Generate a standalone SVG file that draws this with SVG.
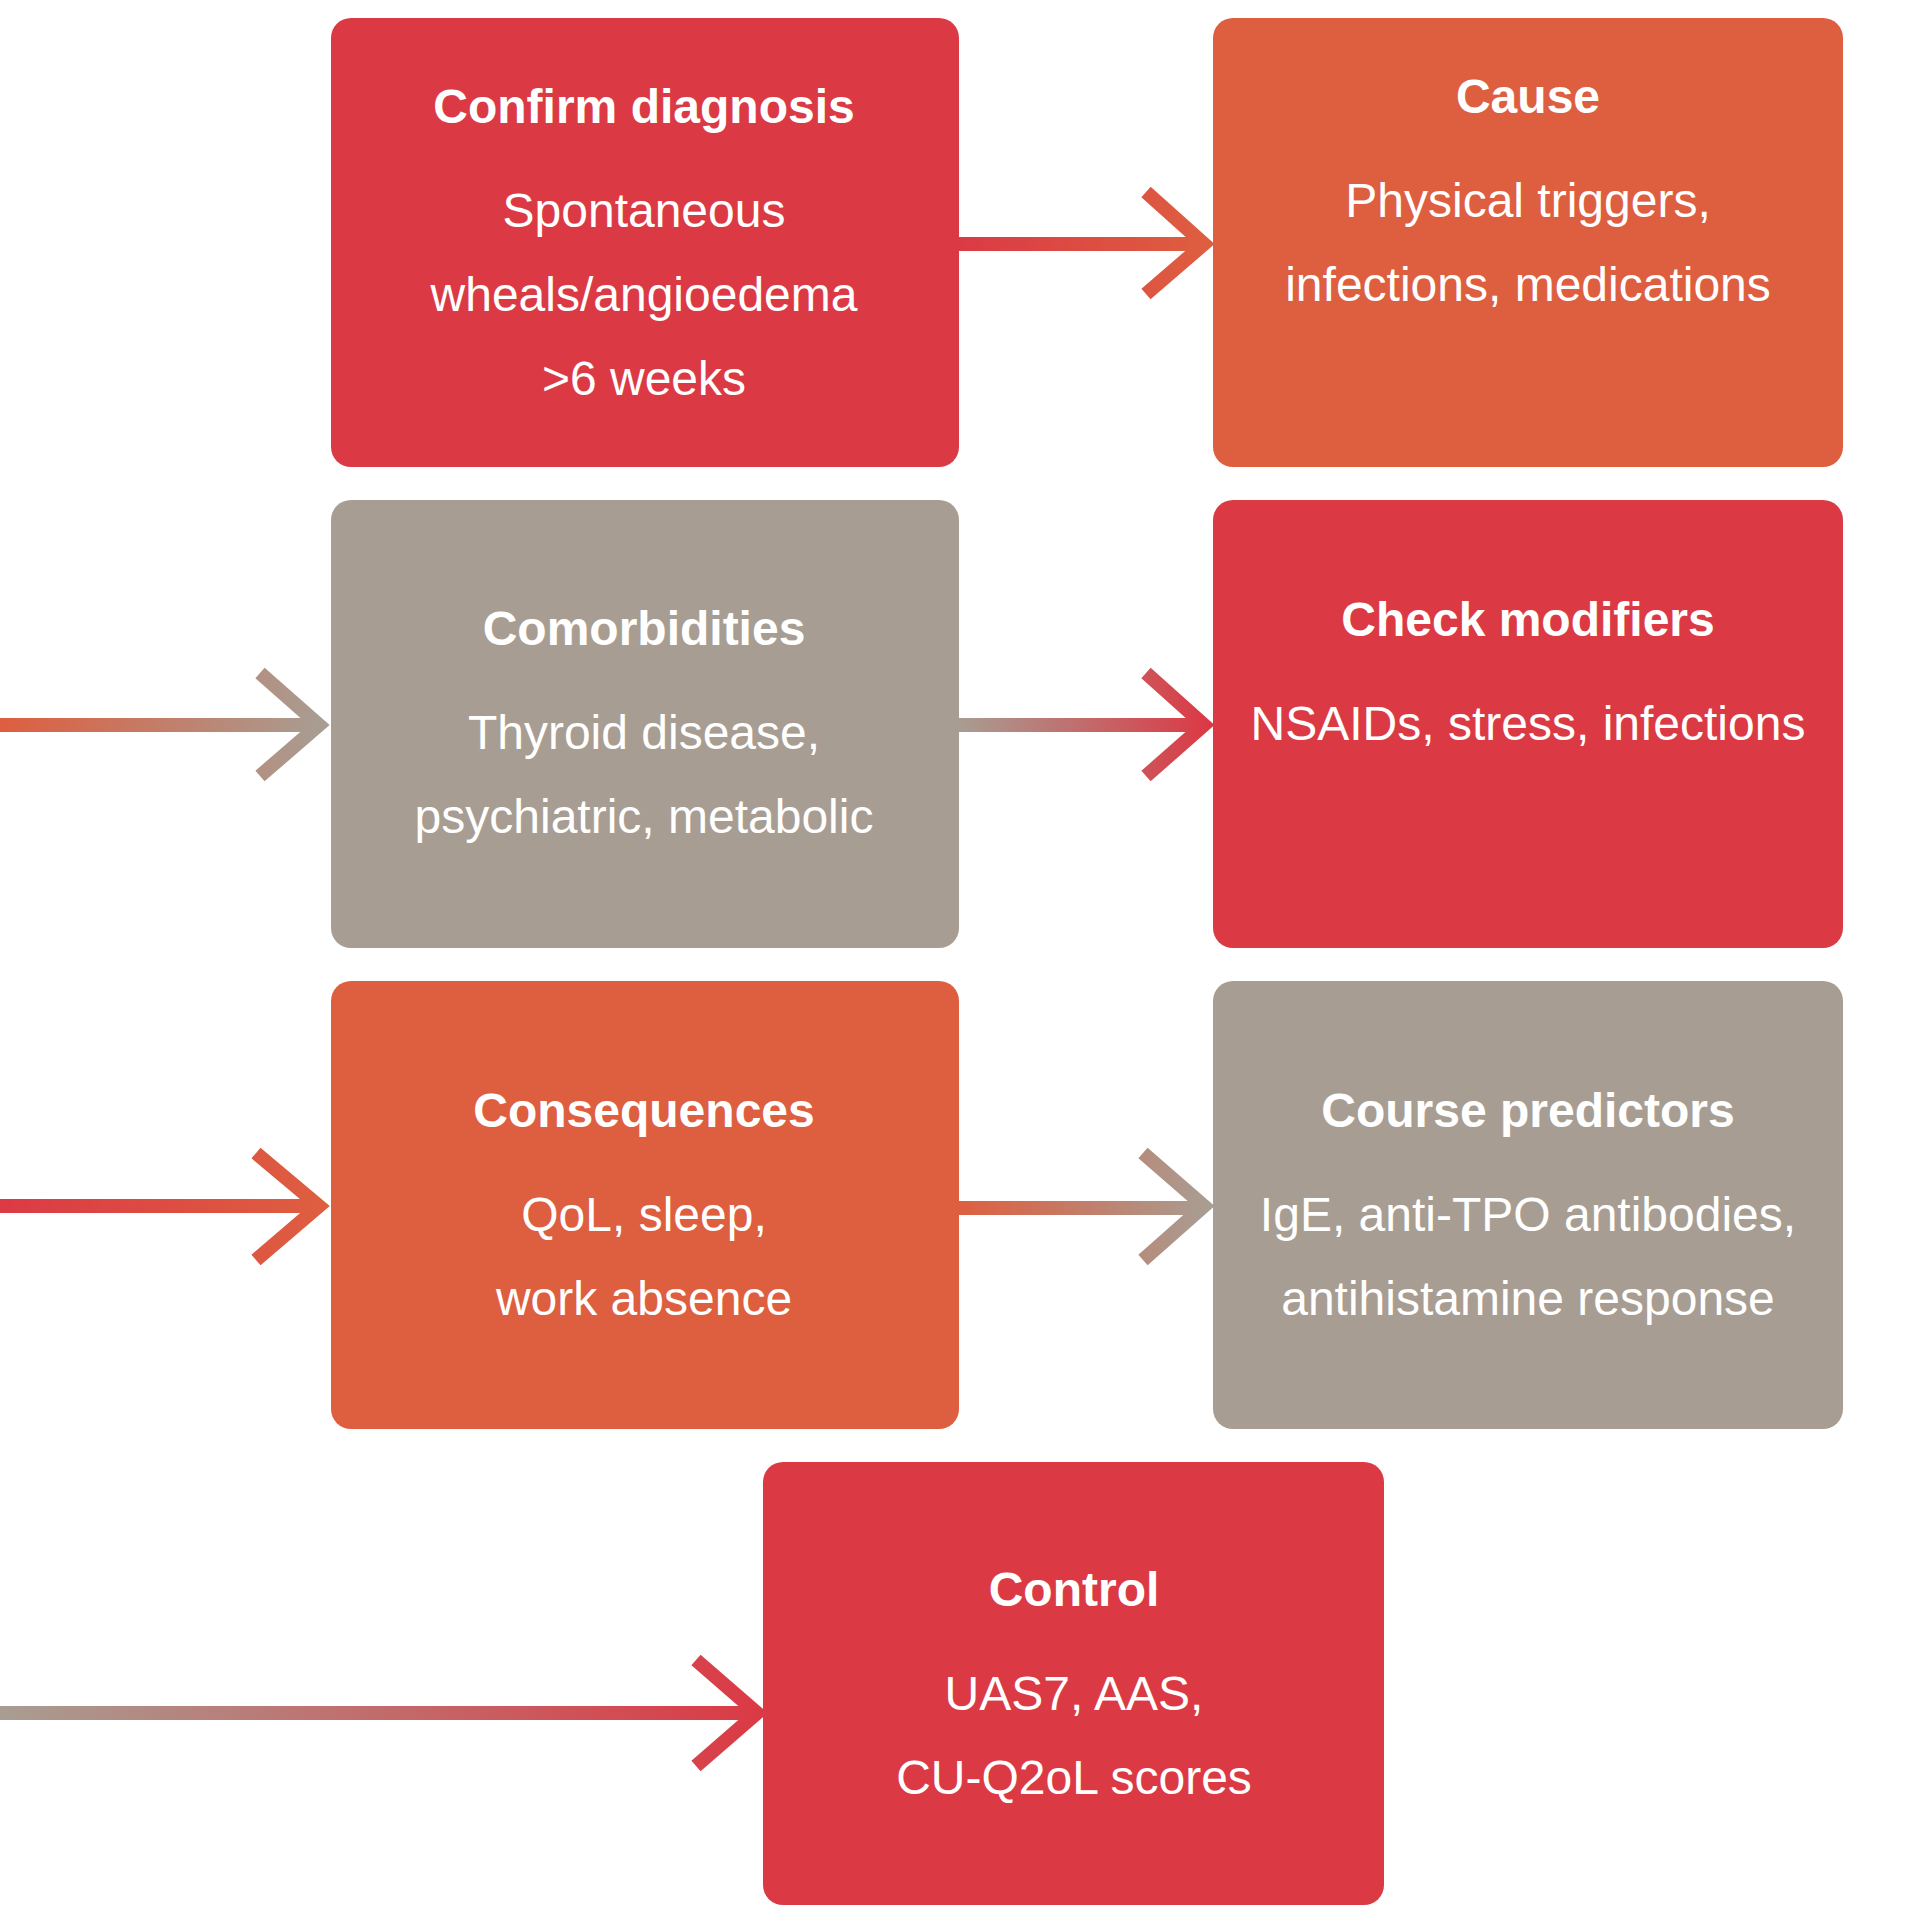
<svg xmlns="http://www.w3.org/2000/svg" width="1920" height="1920" viewBox="0 0 1920 1920">
<style>
.t{font-family:"Century Gothic","URW Gothic","Liberation Sans",sans-serif;font-weight:bold;font-size:48px;fill:#fff;text-anchor:middle}
.b{font-family:"Century Gothic","URW Gothic","Liberation Sans",sans-serif;font-size:48px;fill:#fff;text-anchor:middle}
.red{fill:#DB3A45}.org{fill:#DE5E40}.gry{fill:#A89D92}
.c{fill:none;stroke-width:14}
</style>
<defs>
<linearGradient id="g1" gradientUnits="userSpaceOnUse" x1="959" y1="0" x2="1206" y2="0"><stop offset="0" stop-color="#DB3A45"/><stop offset="1" stop-color="#DE5E40"/></linearGradient>
<linearGradient id="g2" gradientUnits="userSpaceOnUse" x1="0" y1="0" x2="321" y2="0"><stop offset="0" stop-color="#DE5E40"/><stop offset="1" stop-color="#A89D92"/></linearGradient>
<linearGradient id="g3" gradientUnits="userSpaceOnUse" x1="959" y1="0" x2="1206" y2="0"><stop offset="0" stop-color="#A89D92"/><stop offset="1" stop-color="#DB3A45"/></linearGradient>
<linearGradient id="g4" gradientUnits="userSpaceOnUse" x1="0" y1="0" x2="321" y2="0"><stop offset="0" stop-color="#DB3A45"/><stop offset="1" stop-color="#DE5E40"/></linearGradient>
<linearGradient id="g5" gradientUnits="userSpaceOnUse" x1="959" y1="0" x2="1206" y2="0"><stop offset="0" stop-color="#DE5E40"/><stop offset="1" stop-color="#A89D92"/></linearGradient>
<linearGradient id="g6" gradientUnits="userSpaceOnUse" x1="0" y1="0" x2="759" y2="0"><stop offset="0" stop-color="#A89D92"/><stop offset="1" stop-color="#DB3A45"/></linearGradient>
</defs>
<g id="connectors">
<g stroke="url(#g1)" class="c"><line x1="959" y1="244" x2="1204" y2="244"/><polyline points="1146,192 1204,244 1146,294"/></g>
<g stroke="url(#g2)" class="c"><line x1="0" y1="725" x2="319" y2="725"/><polyline points="260,673 319,725 260,776"/></g>
<g stroke="url(#g3)" class="c"><line x1="959" y1="725" x2="1204" y2="725"/><polyline points="1146,673 1204,725 1146,776"/></g>
<g stroke="url(#g4)" class="c"><line x1="0" y1="1206" x2="319" y2="1206"/><polyline points="256,1153 319,1206 256,1260"/></g>
<g stroke="url(#g5)" class="c"><line x1="959" y1="1208" x2="1204" y2="1208"/><polyline points="1143,1153 1204,1206 1143,1260"/></g>
<g stroke="url(#g6)" class="c"><line x1="0" y1="1713" x2="757" y2="1713"/><polyline points="696,1660 757,1713 696,1766"/></g>
</g>
<g id="confirm"><rect class="red" x="331" y="18" width="628" height="449" rx="20"/>
<text class="t" x="644" y="123">Confirm diagnosis</text>
<text class="b" x="644" y="227">Spontaneous</text><text class="b" x="644" y="311">wheals/angioedema</text><text class="b" x="644" y="395">&gt;6 weeks</text></g>
<g id="cause"><rect class="org" x="1213" y="18" width="630" height="449" rx="20"/>
<text class="t" x="1528" y="113">Cause</text>
<text class="b" x="1528" y="217">Physical triggers,</text><text class="b" x="1528" y="301">infections, medications</text></g>
<g id="comorbidities"><rect class="gry" x="331" y="500" width="628" height="448" rx="20"/>
<text class="t" x="644" y="645">Comorbidities</text>
<text class="b" x="644" y="749">Thyroid disease,</text><text class="b" x="644" y="833">psychiatric, metabolic</text></g>
<g id="modifiers"><rect class="red" x="1213" y="500" width="630" height="448" rx="20"/>
<text class="t" x="1528" y="636">Check modifiers</text>
<text class="b" x="1528" y="740">NSAIDs, stress, infections</text></g>
<g id="consequences"><rect class="org" x="331" y="981" width="628" height="448" rx="20"/>
<text class="t" x="644" y="1127">Consequences</text>
<text class="b" x="644" y="1231">QoL, sleep,</text><text class="b" x="644" y="1315">work absence</text></g>
<g id="course"><rect class="gry" x="1213" y="981" width="630" height="448" rx="20"/>
<text class="t" x="1528" y="1127">Course predictors</text>
<text class="b" x="1528" y="1231">IgE, anti-TPO antibodies,</text><text class="b" x="1528" y="1315">antihistamine response</text></g>
<g id="control"><rect class="red" x="763" y="1462" width="621" height="443" rx="20"/>
<text class="t" x="1074" y="1606">Control</text>
<text class="b" x="1074" y="1710">UAS7, AAS,</text><text class="b" x="1074" y="1794">CU-Q2oL scores</text></g>
</svg>
